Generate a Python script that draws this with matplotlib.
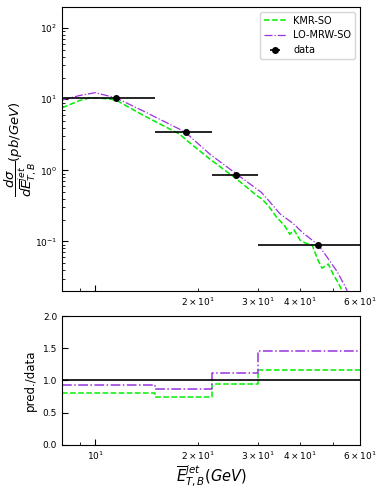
import numpy as np
import matplotlib
matplotlib.use("Agg")
import matplotlib.pyplot as plt

# measured cross section, bins in E_T (GeV)
bin_edges = [8, 15, 22, 30, 60]
data_x = [11.5, 18.5, 26.0, 45.0]
data_y = [10.3, 3.5, 0.85, 0.09]

# theory curves
kmr_x = [8.0, 9.0, 9.6, 10.3, 11.5, 13.8, 17.7, 18.9, 21.7, 26.0, 29.8, 30.8,
         32.2, 34.1, 36.1, 37.3, 38.4, 40.0, 41.4, 43.4, 45.1, 46.4, 48.4,
         50.1, 51.8, 53.2]
kmr_y = [7.6, 9.6, 10.4, 10.4, 9.8, 6.0, 3.24, 2.47, 1.45, 0.76, 0.444, 0.40,
         0.322, 0.22, 0.164, 0.126, 0.145, 0.104, 0.095, 0.089, 0.055, 0.042,
         0.048, 0.034, 0.026, 0.020]

mrw_x = [8.0, 9.0, 10.0, 11.5, 13.8, 17.7, 18.9, 21.7, 26.0, 29.8, 30.8,
         32.6, 34.9, 38.2, 40.9, 45.3, 47.9, 51.3, 54.3, 55.0]
mrw_y = [9.8, 11.3, 12.4, 10.5, 6.9, 3.8, 3.07, 1.70, 0.89, 0.55, 0.49,
         0.36, 0.245, 0.178, 0.130, 0.089, 0.061, 0.038, 0.023, 0.020]

# pred./data per bin
ratio_kmr = [0.80, 0.75, 0.95, 1.17]
ratio_mrw = [0.935, 0.875, 1.115, 1.45]

GREEN = "#00ee00"
PURPLE = "#9933dd"

fig = plt.figure(figsize=(3.81, 4.90), dpi=100)
ax1 = fig.add_axes([0.163, 0.406, 0.782, 0.580])
ax2 = fig.add_axes([0.163, 0.092, 0.782, 0.263])

ax1.plot(kmr_x, kmr_y, "--", color=GREEN, lw=1.1, label="KMR-SO")
ax1.plot(mrw_x, mrw_y, "-.", color=PURPLE, lw=0.9, label="LO-MRW-SO")
edges = np.array(bin_edges, dtype=float)
xerr = [np.array(data_x) - edges[:-1], edges[1:] - np.array(data_x)]
ax1.errorbar(data_x, data_y, xerr=xerr, fmt="o", color="black", ms=4,
             elinewidth=1.2, label="data")
ax1.set_xscale("log")
ax1.set_yscale("log")
ax1.set_xlim(8, 60)
ax1.set_ylim(0.02, 200)
ax1.set_ylabel(r"$\dfrac{d\sigma}{d\overline{E}^{jet}_{T,B}}(pb/GeV)$",
               fontsize=9.5)
ax1.yaxis.set_label_coords(-0.078, 0.5)
ax1.legend(loc="upper right", fontsize=7, handlelength=2.2)
plt.setp(ax1.get_xticklabels(), visible=False)

ax2.step(edges, ratio_kmr + [ratio_kmr[-1]], where="post", ls="--",
         color=GREEN, lw=1.1)
ax2.step(edges, ratio_mrw + [ratio_mrw[-1]], where="post", ls="-.",
         color=PURPLE, lw=1.1)
ax2.axhline(1.0, color="black", lw=1.2)
ax2.set_xscale("log")
ax2.set_xlim(8, 60)
ax2.set_ylim(0, 2)
ax2.set_yticks([0.0, 0.5, 1.0, 1.5, 2.0])
ax2.set_ylabel("pred./data", fontsize=8.5)
ax2.set_xlabel(r"$\overline{E}^{jet}_{T,B}(GeV)$", fontsize=10.5, labelpad=1)

for ax in (ax1, ax2):
    ax.tick_params(which="both", direction="in", labelsize=6.5)
    ax.tick_params(which="major", length=4)
    ax.tick_params(which="minor", length=2.5)

fig.savefig("out.png", dpi=100)
